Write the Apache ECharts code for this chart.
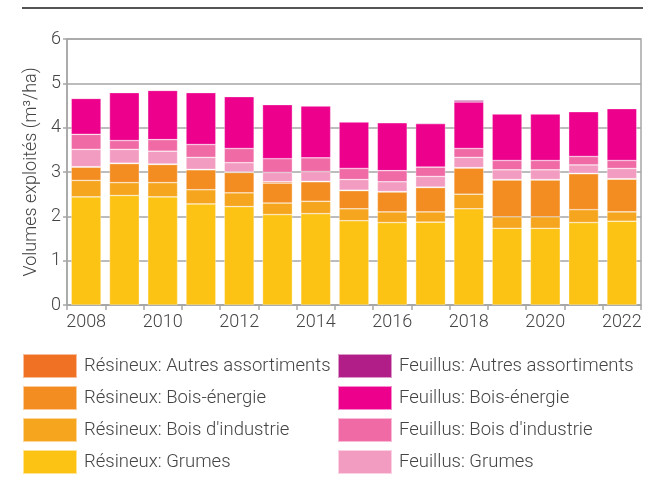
<!DOCTYPE html>
<html>
<head>
<meta charset="utf-8">
<script src="https://cdn.jsdelivr.net/npm/echarts@6/dist/echarts.min.js"></script>
<style>
html,body{margin:0;padding:0;background:#fff;}
#chart{width:657px;height:483px;}
</style>
</head>
<body>
<div id="chart"></div>
<script>
var annees = ['2008','2009','2010','2011','2012','2013','2014','2015','2016','2017','2018','2019','2020','2021','2022'];

var resGrumes   = [2.44, 2.47, 2.44, 2.28, 2.22, 2.04, 2.06, 1.90, 1.86, 1.87, 2.17, 1.73, 1.73, 1.86, 1.89];
var resIndustrie= [0.37, 0.29, 0.32, 0.32, 0.31, 0.26, 0.28, 0.27, 0.24, 0.23, 0.33, 0.26, 0.26, 0.29, 0.21];
var resEnergie  = [0.30, 0.43, 0.41, 0.45, 0.46, 0.45, 0.44, 0.41, 0.45, 0.55, 0.59, 0.83, 0.83, 0.81, 0.74];
var resAutres   = [0.01, 0.01, 0.01, 0.01, 0.01, 0.03, 0.01, 0.01, 0.01, 0.01, 0.01, 0.01, 0.01, 0.01, 0.01];
var feuGrumes   = [0.39, 0.31, 0.29, 0.27, 0.21, 0.21, 0.22, 0.24, 0.22, 0.24, 0.23, 0.22, 0.22, 0.19, 0.23];
var feuIndustrie= [0.34, 0.20, 0.26, 0.29, 0.32, 0.31, 0.31, 0.25, 0.25, 0.21, 0.20, 0.21, 0.21, 0.19, 0.18];
var feuEnergie  = [0.81, 1.08, 1.11, 1.17, 1.17, 1.22, 1.17, 1.05, 1.08, 0.98, 1.05, 1.05, 1.05, 1.01, 1.17];
var feuAutres   = [0.01, 0.01, 0.01, 0.01, 0.01, 0.01, 0.01, 0.01, 0.01, 0.02, 0.04, 0.01, 0.01, 0.01, 0.01];

var couleurs = {
	resGrumes:'#fcc314', resIndustrie:'#f6a51e', resEnergie:'#f38d22', resAutres:'#f07024',
	feuGrumes:'#f39cc1', feuIndustrie:'#f06aa6', feuEnergie:'#ec008c', feuAutres:'#b21e87'
};

var police = {fontFamily:'Roboto', fontWeight:300, color:'#444', fontSize:18};
var policeLegende = {fontFamily:'Roboto', fontWeight:300, color:'#444', fontSize:18.5, padding:[0,0,0,2]};

function serie(nom, data, couleur){
	return {
		name:nom, type:'bar', stack:'total', barCategoryGap:'22%',
		itemStyle:{color:couleur, borderColor:'rgba(255,255,255,0.55)', borderWidth:0.6},
		emphasis:{disabled:true},
		data:data
	};
}

var myChart = echarts.init(document.getElementById('chart'));
var option = {
	animation:false,
	textStyle:police,
	grid:{left:67, right:16, top:39, bottom:178, show:true, borderColor:'#a6a6a6', borderWidth:1.5},
	graphic:[{type:'line', shape:{x1:22, y1:8, x2:643, y2:8}, style:{stroke:'#555', lineWidth:2}}],
	legend:[
		{
			orient:'vertical', left:22, top:353, padding:0, itemWidth:54, itemHeight:24, itemGap:6,
			icon:'rect', textStyle:policeLegende,
			data:['Résineux: Autres assortiments','Résineux: Bois-énergie',"Résineux: Bois d'industrie",'Résineux: Grumes']
		},
		{
			orient:'vertical', left:337, top:353, padding:0, itemWidth:54, itemHeight:24, itemGap:6,
			icon:'rect', textStyle:policeLegende,
			data:['Feuillus: Autres assortiments','Feuillus: Bois-énergie',"Feuillus: Bois d'industrie",'Feuillus: Grumes']
		}
	],
	xAxis:{
		type:'category', data:annees,
		axisLine:{lineStyle:{color:'#a6a6a6', width:1.5}},
		axisTick:{show:true, interval:0, length:5, lineStyle:{color:'#a6a6a6', width:1.5}},
		axisLabel:Object.assign({interval:1, margin:8}, police)
	},
	yAxis:{
		type:'value', min:0, max:6, interval:1,
		name:'Volumes exploités (m³/ha)', nameLocation:'middle', nameGap:26,
		nameTextStyle:police,
		axisLine:{show:true, lineStyle:{color:'#a6a6a6', width:1.5}},
		axisTick:{show:true, length:4, lineStyle:{color:'#a6a6a6', width:1.5}},
		axisLabel:Object.assign({margin:6}, police),
		splitLine:{lineStyle:{color:'#a6a6a6', width:1.5}}
	},
	series:[
		serie('Résineux: Grumes', resGrumes, couleurs.resGrumes),
		serie("Résineux: Bois d'industrie", resIndustrie, couleurs.resIndustrie),
		serie('Résineux: Bois-énergie', resEnergie, couleurs.resEnergie),
		serie('Résineux: Autres assortiments', resAutres, couleurs.resAutres),
		serie('Feuillus: Grumes', feuGrumes, couleurs.feuGrumes),
		serie("Feuillus: Bois d'industrie", feuIndustrie, couleurs.feuIndustrie),
		serie('Feuillus: Bois-énergie', feuEnergie, couleurs.feuEnergie),
		serie('Feuillus: Autres assortiments', feuAutres, couleurs.feuAutres)
	]
};
myChart.setOption(option);
</script>
</body>
</html>
